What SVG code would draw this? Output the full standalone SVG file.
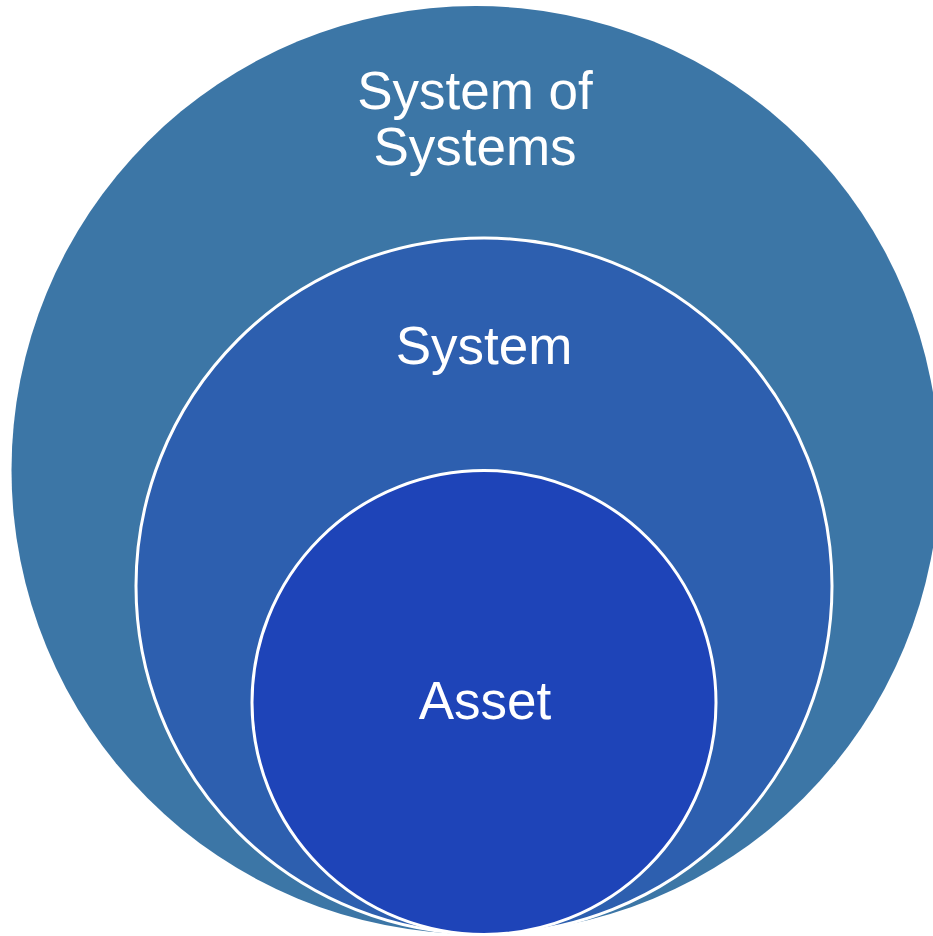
<svg xmlns="http://www.w3.org/2000/svg" width="933" height="936" viewBox="0 0 933 936">
  <style>
    .ring { stroke: #ffffff; stroke-width: 3; }
    .label { font-family: "Liberation Sans", Arial, sans-serif; font-size: 53px; fill: #ffffff; text-anchor: middle; }
  </style>
  <rect width="933" height="936" fill="#ffffff"/>
  <g id="system-of-systems">
    <circle cx="475.5" cy="470" r="464" fill="#3C76A6"/>
    <text class="label" x="475" y="109">System of</text>
    <text class="label" x="475" y="165">Systems</text>
  </g>
  <g id="system">
    <circle class="ring" cx="484" cy="586" r="348" fill="#2D5FAF"/>
    <text class="label" x="484" y="364">System</text>
  </g>
  <g id="asset">
    <circle class="ring" cx="484" cy="702.5" r="232" fill="#1E44B8"/>
    <text class="label" x="485" y="719">Asset</text>
  </g>
  <g id="connectors"/>
</svg>
